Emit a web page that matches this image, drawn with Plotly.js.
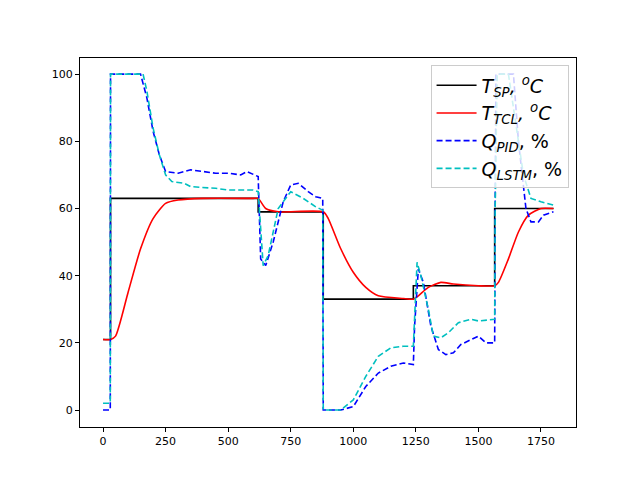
<!DOCTYPE html>
<html>
<head>
<script src="https://cdn.plot.ly/plotly-3.0.1.min.js"></script>
</head>
<body style="margin:0">
<div id="plot" style="width:640px;height:480px"></div>
<script>
var spTime = [0, 30, 620, 880, 1240, 1565, 1800];
var spVal = [21, 63, 59, 33, 37, 60, 60];

var tTime = [0, 30, 50, 100, 150, 200, 250, 300, 400, 600, 620, 650, 700, 880, 900, 950, 1000, 1050, 1100, 1200, 1240, 1260, 1300, 1350, 1400, 1500, 1565, 1580, 1620, 1660, 1700, 1750, 1800];
var tVal = [21, 21, 22, 35, 48, 57, 61.5, 62.5, 63, 63, 63, 60, 59, 59, 57, 48, 41, 36.5, 34, 33.2, 33, 34, 36.5, 38, 37.5, 37, 37, 38, 45, 53, 58, 60, 60];

var pidTime = [0, 29, 30, 150, 175, 200, 225, 250, 300, 350, 400, 450, 500, 550, 575, 620, 630, 650, 680, 720, 750, 780, 820, 850, 878, 880, 950, 1000, 1050, 1100, 1150, 1200, 1240, 1245, 1260, 1280, 1310, 1340, 1370, 1400, 1430, 1470, 1500, 1530, 1565, 1567, 1570, 1640, 1660, 1690, 1710, 1740, 1760, 1800];
var pidVal = [0, 0, 100, 100, 93, 83, 76, 71, 70.5, 71.5, 71, 70.5, 70.5, 70, 71, 69.5, 45, 43, 50, 62, 67, 67.5, 65, 63.5, 63, 0, 0, 1, 7, 11, 13, 14, 13.5, 25, 42, 38, 25, 18, 16.5, 17, 19.5, 21, 22, 20, 20, 60, 100, 100, 80, 60, 56, 56, 58, 59];

var lstmTime = [0, 29, 30, 160, 175, 200, 225, 250, 275, 325, 350, 450, 500, 600, 620, 640, 660, 700, 750, 800, 850, 878, 880, 950, 1000, 1050, 1100, 1150, 1200, 1240, 1255, 1270, 1300, 1320, 1350, 1380, 1420, 1470, 1500, 1565, 1567, 1575, 1620, 1650, 1680, 1710, 1750, 1800];
var lstmVal = [2, 2, 100, 100, 95, 84, 76, 70, 68, 67.5, 66.5, 66, 65.5, 65.5, 65, 43, 46, 60, 65, 63, 60.5, 59.5, 0, 0, 3, 10, 16, 18.5, 19, 19, 44, 40, 30, 22, 21.5, 23, 26, 27, 26.5, 27, 60, 100, 100, 85, 70, 63, 62, 61];

var data = [
  {x: spTime, y: spVal, mode: 'lines', line: {color: 'black', width: 1.6, shape: 'hv'}, name: '<i>T<sub>SP</sub>, <sup>o</sup>C</i>'},
  {x: tTime, y: tVal, mode: 'lines', line: {color: 'red', width: 1.6, shape: 'spline', smoothing: 0.6}, name: '<i>T<sub>TCL</sub>, <sup>o</sup>C</i>'},
  {x: pidTime, y: pidVal, mode: 'lines', line: {color: 'blue', width: 1.6, dash: '6px,3px'}, name: '<i>Q<sub>PID</sub></i>, %'},
  {x: lstmTime, y: lstmVal, mode: 'lines', line: {color: '#00bfbf', width: 1.6, dash: '6px,3px'}, name: '<i>Q<sub>LSTM</sub></i>, %'}
];

var axisStyle = {showgrid: false, zeroline: false, showline: true, mirror: true, linecolor: 'black', linewidth: 1, ticks: 'outside', ticklen: 4, tickcolor: 'black', tickfont: {size: 11, color: 'black'}};

var layout = {
  width: 640, height: 480,
  margin: {l: 80, r: 64, t: 58, b: 53},
  font: {family: 'DejaVu Sans', color: 'black'},
  plot_bgcolor: 'white', paper_bgcolor: 'white',
  xaxis: Object.assign({range: [-92, 1890], tickvals: [0, 250, 500, 750, 1000, 1250, 1500, 1750]}, axisStyle),
  yaxis: Object.assign({range: [-5.06, 104.8], tickvals: [0, 20, 40, 60, 80, 100]}, axisStyle),
  legend: {x: 0.985, y: 0.98, xanchor: 'right', yanchor: 'top', bgcolor: 'rgba(255,255,255,0.8)', bordercolor: '#cccccc', borderwidth: 1, font: {size: 19}, tracegroupgap: 0, itemwidth: 40},
  showlegend: true
};

Plotly.newPlot('plot', data, layout, {staticPlot: true});
</script>
</body>
</html>
